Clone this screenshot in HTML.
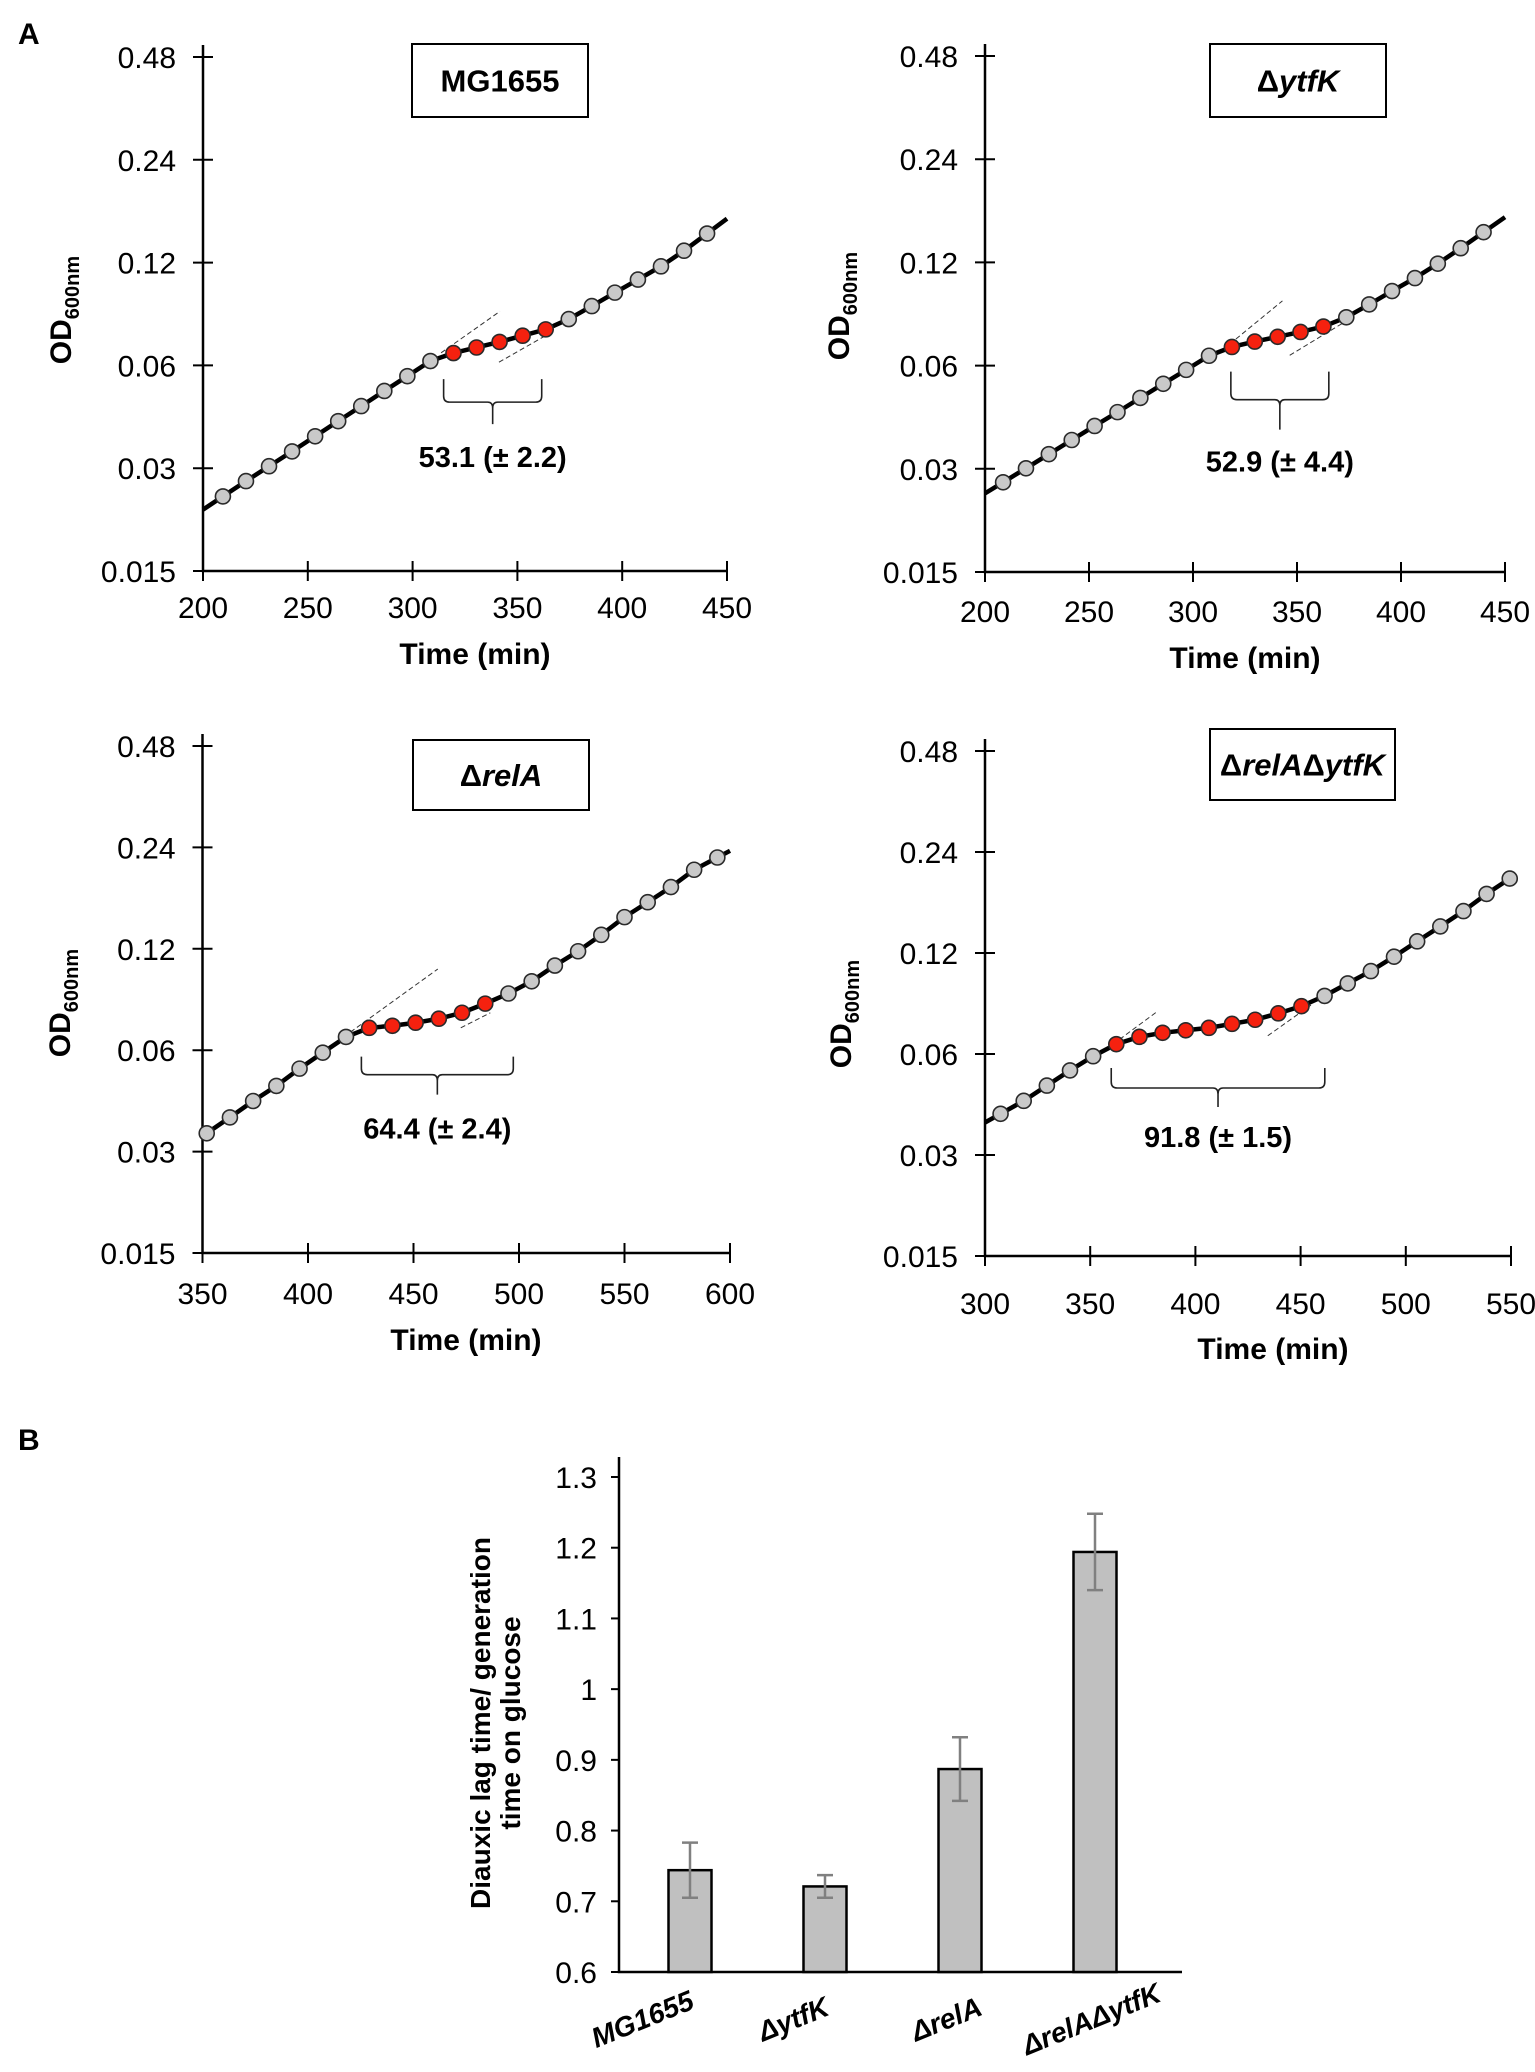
<!DOCTYPE html>
<html><head><meta charset="utf-8">
<style>
html,body{margin:0;padding:0;background:#fff;}
svg{display:block;font-family:"Liberation Sans",Arial,sans-serif;}
</style></head>
<body>
<svg id="fig" width="1535" height="2072" viewBox="0 0 1535 2072" xmlns="http://www.w3.org/2000/svg">
<text x="18" y="44" font-size="30" font-weight="bold">A</text>
<text x="18" y="1450" font-size="30" font-weight="bold">B</text>
<g id="panels"></g>
<g id="bars"></g>
</svg>
<script>
// ---- Panel A data (time in min, OD600) ----
const p1Times = [209.5,220.5,231.5,242.5,253.5,264.5,275.5,286.5,297.5,308.5,319.5,330.5,341.5,352.5,363.5,374.5,385.5,396.5,407.5,418.5,429.5,440.5];
const p1OD = [0.0248,0.0275,0.0304,0.0336,0.0372,0.0412,0.0456,0.0505,0.0558,0.0618,0.0652,0.0677,0.0703,0.0733,0.0765,0.082,0.0895,0.098,0.107,0.117,0.130,0.146];
const p1Red = [10,11,12,13,14];
const p2Times = [208.7,219.7,230.7,241.7,252.7,263.7,274.7,285.7,296.7,307.7,318.7,329.7,340.7,351.7,362.7,373.7,384.7,395.7,406.7,417.7,428.7,439.7];
const p2OD = [0.0274,0.0301,0.0331,0.0364,0.0400,0.0439,0.0483,0.0531,0.0583,0.0641,0.068,0.0705,0.0728,0.0752,0.078,0.083,0.0905,0.099,0.108,0.119,0.132,0.147];
const p2Red = [10,11,12,13,14];
const p3Times = [352,363,374,385,396,407,418,429,440,451,462,473,484,495,506,517,528,539,550,561,572,583,594];
const p3OD = [0.034,0.0379,0.0424,0.047,0.0529,0.059,0.0657,0.0699,0.0709,0.0724,0.0744,0.0775,0.0825,0.0884,0.0961,0.107,0.118,0.132,0.149,0.165,0.183,0.206,0.224];
const p3Red = [7,8,9,10,11,12];
const p4Times = [307.4,318.4,329.4,340.4,351.4,362.4,373.4,384.4,395.4,406.4,417.4,428.4,439.4,450.4,461.4,472.4,483.4,494.4,505.4,516.4,527.4,538.4,549.4];
const p4OD = [0.0398,0.0435,0.0483,0.0536,0.0591,0.0642,0.0675,0.0694,0.0706,0.0718,0.0738,0.0759,0.0793,0.0833,0.0894,0.0974,0.106,0.117,0.130,0.144,0.160,0.180,0.200];
const p4Red = [5,6,7,8,9,10,11,12,13];
const yTicks = [0.015,0.03,0.06,0.12,0.24,0.48];
const yTickLabels = ["0.015","0.03","0.06","0.12","0.24","0.48"];
const xTicks1 = [200,250,300,350,400,450];
const xTicks3 = [350,400,450,500,550,600];
const xTicks4 = [300,350,400,450,500,550];
// tangent lines [t1,od1,t2,od2]
const p1Tan = [[313.6,0.0653,341.7,0.0864],[341.2,0.0613,367.4,0.0757]];
const p2Tan = [[314.7,0.0670,343,0.0927],[346.5,0.0643,373.6,0.0809]];
const p3Tan = [[420.1,0.0679,461.5,0.1045],[472.4,0.0699,486.4,0.0775]];
const p4Tan = [[360.9,0.0642,381.5,0.0800],[434.4,0.068,456,0.0849]];
// lag brackets [tStart, tEnd, odTop]
const p1Br = [314.8,361.6,0.0547]; const p1Lag = "53.1 (± 2.2)";
const p2Br = [318.2,365.3,0.0576]; const p2Lag = "52.9 (± 4.4)";
const p3Br = [425.3,497.3,0.0574]; const p3Lag = "64.4 (± 2.4)";
const p4Br = [360,461.5,0.0545];  const p4Lag = "91.8 (± 1.5)";

// ---- Panel B data ----
const strains = ["MG1655","ΔytfK","ΔrelA","ΔrelAΔytfK"];
const ratios = [0.744,0.721,0.887,1.194];
const ratioErr = [0.039,0.016,0.045,0.054];
const barTicks = [0.6,0.7,0.8,0.9,1,1.1,1.2,1.3];
const barTickLabels = ["0.6","0.7","0.8","0.9","1","1.1","1.2","1.3"];

const NS="http://www.w3.org/2000/svg";
function mk(parent,tag,attrs,text){const e=document.createElementNS(NS,tag);for(const k in attrs)e.setAttribute(k,attrs[k]);if(text!==undefined)e.textContent=text;parent.appendChild(e);return e;}

const panels=[
 {id:"mg1655",title:"MG1655",x0:203,x1:727,y0:571,y1:57,xmin:200,xmax:450,xt:xTicks1,t:p1Times,od:p1OD,red:p1Red,tan:p1Tan,br:p1Br,lag:p1Lag,brOff:[23,45,88],box:[412,44,176,73],tickBase:618,timeX:475,timeY:664,odX:61,odY:310},
 {id:"ytfk",title:"ytfK",x0:985,x1:1505,y0:572,y1:56,xmin:200,xmax:450,xt:xTicks1,t:p2Times,od:p2OD,red:p2Red,tan:p2Tan,br:p2Br,lag:p2Lag,brOff:[28,58,100],box:[1210,44,176,73],tickBase:622,timeX:1245,timeY:668,odX:839,odY:306},
 {id:"rela",title:"relA",x0:202.5,x1:730,y0:1253,y1:746,xmin:350,xmax:600,xt:xTicks3,t:p3Times,od:p3OD,red:p3Red,tan:p3Tan,br:p3Br,lag:p3Lag,brOff:[18,38,82],box:[413,740,176,70],tickBase:1304,timeX:466,timeY:1350,odX:60,odY:1003},
 {id:"rela-ytfk",title:"relAytfK",x0:985,x1:1511,y0:1256,y1:751,xmin:300,xmax:550,xt:xTicks4,t:p4Times,od:p4OD,red:p4Red,tan:p4Tan,br:p4Br,lag:p4Lag,brOff:[20,39,79],box:[1210,729,185,71],tickBase:1314,timeX:1273,timeY:1359,odX:841,odY:1014}
];

const root=document.getElementById('panels');
panels.forEach(p=>{
  const g=mk(root,'g',{});
  
  
  const X=t=>p.x0+(t-p.xmin)/(p.xmax-p.xmin)*(p.x1-p.x0);
  const Y=v=>p.y0-(Math.log2(v/0.015)/5)*(p.y0-p.y1);
  const ax=mk(g,'path',{d:`M${p.x0},${p.y1-12}V${p.y0}H${p.x1}`,fill:'none',stroke:'#000','stroke-width':2.5});
   
  yTicks.forEach((v,i)=>{
    const y=Y(v);
    const tk=mk(g,'line',{x1:p.x0-10,x2:p.x0+10,y1:y,y2:y,stroke:'#000','stroke-width':2});
     
    const tl=mk(g,'text',{x:p.x0-27,y:y+11,'font-size':30,'text-anchor':'end'},yTickLabels[i]);
     
  });
  p.xt.forEach(v=>{
    const x=X(v);
    const tk=mk(g,'line',{x1:x,x2:x,y1:p.y0-10,y2:p.y0+10,stroke:'#000','stroke-width':2});
     
    const tl=mk(g,'text',{x:x,y:p.tickBase,'font-size':30,'text-anchor':'middle'},String(v));
     
  });
  const xt=mk(g,'text',{x:p.timeX,y:p.timeY,'font-size':30,'font-weight':'bold','text-anchor':'middle'},'Time (min)');
   
  const yt=mk(g,'text',{x:0,y:0,'font-size':30,'font-weight':'bold','text-anchor':'middle',transform:`translate(${p.odX+10},${p.odY}) rotate(-90)`});
   
  mk(yt,'tspan',{},'OD');
  mk(yt,'tspan',{'font-size':20,dy:8},'600nm');
  const b=p.box;
  const bx=mk(g,'rect',{x:b[0],y:b[1],width:b[2],height:b[3],fill:'#fff',stroke:'#000','stroke-width':2});
   
  const tt=mk(g,'text',{x:b[0]+b[2]/2,y:b[1]+b[3]/2+11,'font-size':31,'font-weight':'bold','text-anchor':'middle'});
   
  if(p.id==='mg1655'){tt.textContent='MG1655';}
  else if(p.id==='ytfk'){mk(tt,'tspan',{},'Δ');mk(tt,'tspan',{'font-style':'italic'},'ytfK');}
  else if(p.id==='rela'){mk(tt,'tspan',{},'Δ');mk(tt,'tspan',{'font-style':'italic'},'relA');}
  else {mk(tt,'tspan',{},'Δ');mk(tt,'tspan',{'font-style':'italic'},'relA');mk(tt,'tspan',{},'Δ');mk(tt,'tspan',{'font-style':'italic'},'ytfK');}
  p.tan.forEach(d=>{
    const l=mk(g,'line',{x1:X(d[0]),y1:Y(d[1]),x2:X(d[2]),y2:Y(d[3]),stroke:'#333','stroke-width':1,'stroke-dasharray':'5,3'});
     
  });
  const n=p.t.length;
  const s0=Math.log(p.od[1]/p.od[0])/(p.t[1]-p.t[0]);
  const s1=Math.log(p.od[n-1]/p.od[n-2])/(p.t[n-1]-p.t[n-2]);
  const pts=[[X(p.xmin),Y(p.od[0]*Math.exp(s0*(p.xmin-p.t[0])))]];
  for(let i=0;i<n;i++)pts.push([X(p.t[i]),Y(p.od[i])]);
  pts.push([X(p.xmax),Y(p.od[n-1]*Math.exp(s1*(p.xmax-p.t[n-1])))]);
  const ln=mk(g,'polyline',{points:pts.map(q=>q.join(',')).join(' '),fill:'none',stroke:'#000','stroke-width':4.5});
   
  for(let i=0;i<n;i++){
    const red=p.red.includes(i);
    const c=mk(g,'circle',{cx:X(p.t[i]),cy:Y(p.od[i]),r:7.5,fill:red?'#f5210f':'#c9c9c9',stroke:'#2a2a2a','stroke-width':1.6});
     
  }
  const xa=X(p.br[0]),xb=X(p.br[1]),yt0=Y(p.br[2]),o=p.brOff,xm=(xa+xb)/2;
  const br=mk(g,'path',{d:`M${xa},${yt0}V${yt0+o[0]-6}Q${xa},${yt0+o[0]} ${xa+6},${yt0+o[0]}H${xm-5}Q${xm},${yt0+o[0]} ${xm},${yt0+o[0]+6}V${yt0+o[1]}M${xm},${yt0+o[0]+6}Q${xm},${yt0+o[0]} ${xm+5},${yt0+o[0]}H${xb-6}Q${xb},${yt0+o[0]} ${xb},${yt0+o[0]-6}V${yt0}`,fill:'none',stroke:'#222','stroke-width':1.6});
   
  const lt=mk(g,'text',{x:xm,y:yt0+o[2],'font-size':29,'font-weight':'bold','text-anchor':'middle'},p.lag);
   
});

// ---- Panel B ----
const bg=document.getElementById('bars');
const BX0=619,BX1=1182,BY0=1972,BY1=1477;
const BY=v=>BY0-(v-0.6)/0.7*(BY0-BY1);
const centers=[690,825,960,1095];
const bax=mk(bg,'path',{d:`M${BX0},${BY1-20}V${BY0}H${BX1}`,fill:'none',stroke:'#000','stroke-width':2.5});
 
barTicks.forEach((v,i)=>{
  const y=BY(v);
  const tk=mk(bg,'line',{x1:BX0-8,x2:BX0,y1:y,y2:y,stroke:'#000','stroke-width':2});
   
  const tl=mk(bg,'text',{x:BX0-22,y:y+11,'font-size':30,'text-anchor':'end'},barTickLabels[i]);
   
});
strains.forEach((s,i)=>{
  const cx=centers[i],w=43,top=BY(ratios[i]);
  const r=mk(bg,'rect',{x:cx-w/2,y:top,width:w,height:BY0-top,fill:'#c0c0c0',stroke:'#000','stroke-width':2.5});
   
  const eh=BY(ratios[i]+ratioErr[i]),el=BY(ratios[i]-ratioErr[i]);
  const e=mk(bg,'path',{d:`M${cx},${eh}V${el}M${cx-8},${eh}H${cx+8}M${cx-8},${el}H${cx+8}`,stroke:'#808080','stroke-width':2.5,fill:'none'});
   
  const lx=cx-[44,28,10,0][i];
  const tl=mk(bg,'text',{x:0,y:0,'font-size':28,'font-weight':'bold','font-style':'italic','text-anchor':'middle',transform:`translate(${lx},${2028}) rotate(-22)`},s);
   
});
const ytb=mk(bg,'text',{x:0,y:0,'font-size':28,'font-weight':'bold','text-anchor':'middle',transform:'translate(490,1723) rotate(-90)'},'Diauxic lag time/ generation');
 
const ytb2=mk(bg,'text',{x:0,y:0,'font-size':28,'font-weight':'bold','text-anchor':'middle',transform:'translate(520,1723) rotate(-90)'},'time on glucose');
 
</script>
</body></html>
